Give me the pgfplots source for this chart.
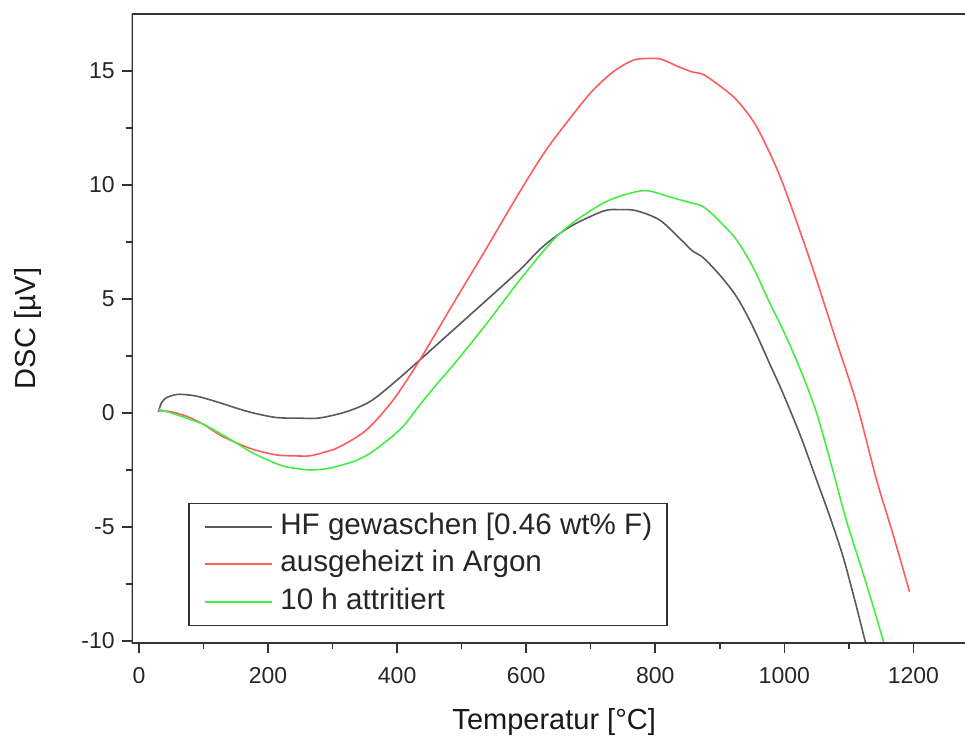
\documentclass[border=0pt]{standalone}
\usepackage{pgfplots}
\pgfplotsset{compat=1.18}
\usepackage{fontspec}
\setmainfont{Liberation Sans}
\definecolor{cblack}{HTML}{5A5A5A}
\definecolor{cred}{HTML}{FF5C5C}
\definecolor{cgreen}{HTML}{44EE44}
\definecolor{frame}{HTML}{333333}
\begin{document}
\begin{tikzpicture}
\begin{axis}[
  scale only axis,
  width=416.65bp, height=314.5bp,
  xmin=-11.3, xmax=1280,
  ymin=-10.09, ymax=17.5,
  xtick={0,200,...,1200},
  ytick={-10,-5,...,15},
  minor x tick num=1,
  minor y tick num=1,
  tick pos=left,
  tick align=outside,
  major tick length=5bp,
  minor tick length=3bp,
  tick style={line width=0.75bp, color=frame},
  axis line style={draw=none},
  /pgf/number format/assume math mode=true,
  /pgf/number format/1000 sep={},
  ticklabel style={font=\fontsize{11.5bp}{13bp}\selectfont, text=black!85},
  xticklabel style={yshift=-3.5bp},
  label style={font=\fontsize{14.5bp}{17bp}\selectfont, text=black!90},
  xlabel={Temperatur [°C]},
  ylabel={DSC [µV]},
  xlabel style={at={(axis description cs:0.507,-0.1256)}, anchor=center},
  ylabel style={at={(axis description cs:-0.1247,0.5)}, anchor=center},
  legend cell align=left,
  legend image code/.code={\draw[#1] (0bp,0bp) -- (33.5bp,0bp);},
  legend style={at={(axis description cs:0.0676,0.027)}, anchor=south west,
    draw=frame, line width=0.75bp, inner xsep=7.5bp, inner ysep=4.5bp,
    font=\fontsize{14.8bp}{17bp}\selectfont, text=black!85,
    nodes={inner sep=0pt, text height=11bp, text depth=3.5bp},
    row sep=4.25bp, column sep=4bp},
]
\addplot[cblack, line width=0.8bp, smooth, tension=0.5] coordinates {
(30,0.05) (35,0.45) (42,0.66) (52,0.77) (63,0.82) (89,0.74) (125,0.45) (150,0.22)
(177,0.0) (213,-0.2) (250,-0.23) (280,-0.22) (322,0.06) (358,0.5) (394,1.3)
(435,2.32) (487,3.64) (539,4.96) (590,6.27) (626,7.3) (668,8.17) (719,8.85)
(745,8.92) (771,8.87) (807,8.46) (840,7.6) (858,7.1) (874,6.82) (900,6.05)
(926,5.1) (951,3.8) (977,2.18) (998,0.86) (1025,-1.0) (1050,-2.94) (1070,-4.5)
(1091,-6.3) (1110,-8.3) (1126,-10.09) (1130,-10.5)
};
\addlegendentry{HF gewaschen [0.46 wt\% F)}
\addplot[cred, line width=0.8bp, smooth, tension=0.5] coordinates {
(30,0.1) (50,0.05) (74,-0.15) (100,-0.5) (125,-0.96) (150,-1.3) (177,-1.6)
(213,-1.84) (240,-1.88) (265,-1.88) (290,-1.7) (306,-1.55) (335,-1.1) (358,-0.6)
(394,0.57) (435,2.32) (487,4.8) (539,7.25) (590,9.7) (631,11.54) (678,13.29)
(705,14.2) (735,14.97) (760,15.4) (776,15.53) (807,15.53) (835,15.2) (858,14.95)
(874,14.85) (900,14.35) (926,13.73) (957,12.56) (993,10.4) (1029,7.59) (1050,5.83)
(1080,3.2) (1112,0.42) (1143,-2.94) (1168,-5.28) (1194,-7.84)
};
\addlegendentry{ausgeheizt in Argon}
\addplot[cgreen, line width=0.8bp, smooth, tension=0.5] coordinates {
(30,0.16) (50,0.0) (74,-0.23) (100,-0.5) (125,-0.89) (150,-1.3) (177,-1.77)
(218,-2.28) (240,-2.42) (265,-2.5) (290,-2.45) (306,-2.35) (335,-2.1) (358,-1.77)
(385,-1.2) (409,-0.6) (435,0.35) (461,1.25) (487,2.1) (539,3.93) (590,5.83)
(642,7.59) (678,8.46) (719,9.2) (750,9.55) (780,9.75) (797,9.7) (820,9.5)
(848,9.27) (874,9.05) (900,8.4) (926,7.59) (951,6.42) (977,4.85) (998,3.64)
(1025,1.9) (1050,0.0) (1075,-2.5) (1096,-4.7) (1122,-7.03) (1140,-8.7)
(1153,-9.96) (1158,-10.5)
};
\addlegendentry{10 h attritiert}
\draw[line width=1bp, frame] (rel axis cs:0,1) -- (rel axis cs:0,0) -- (rel axis cs:1,0);
\draw[line width=1bp, frame] (rel axis cs:0,1) -- (rel axis cs:1,1);
\end{axis}
\pgfresetboundingbox
\path[use as bounding box] (-65.85bp,-48.5bp) rectangle (416.65bp,321.5bp);
\end{tikzpicture}
\end{document}
